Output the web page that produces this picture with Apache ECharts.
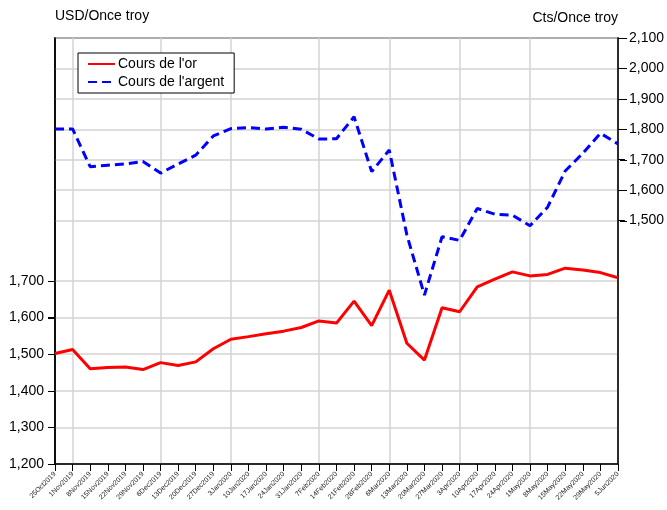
<!DOCTYPE html>
<html>
<head>
<meta charset="utf-8">
<script src="https://cdn.jsdelivr.net/npm/echarts@6/dist/echarts.min.js"></script>
<style>
html,body{margin:0;padding:0;background:#fff;}
#chart{width:667px;height:510px;}
</style>
</head>
<body>
<div id="chart"></div>
<script>
var categories = ['25Oct2019','1Nov2019','8Nov2019','15Nov2019','22Nov2019','29Nov2019','6Dec2019','13Dec2019','20Dec2019','27Dec2019','3Jan2020','10Jan2020','17Jan2020','24Jan2020','31Jan2020','7Feb2020','14Feb2020','21Feb2020','28Feb2020','6Mar2020','13Mar2020','20Mar2020','27Mar2020','3Apr2020','10Apr2020','17Apr2020','24Apr2020','1May2020','8May2020','15May2020','22May2020','29May2020','5Jun2020'];
var goldPrice = [1502,1513,1460,1464,1465,1458,1477,1469,1479,1515,1541,1548,1556,1563,1573,1591,1585,1645,1578,1675,1530,1484,1627,1616,1684,1705,1725,1714,1718,1735,1730,1723,1709];
var silverPrice = [1801,1801,1677,1682,1686,1694,1656,1686,1715,1778,1802,1806,1801,1807,1800,1768,1769,1841,1661,1732,1453,1255,1447,1435,1540,1521,1518,1483,1544,1663,1721,1787,1752];
var leftTicks = [1200,1300,1400,1500,1600,1700];
var rightTicks = [1500,1600,1700,1800,1900,2000,2100];
var leftAxisRange = [1200, 2364];
var rightAxisRange = [700, 2100];
var seriesNames = ["Cours de l'or", "Cours de l'argent"];
var leftUnit = 'USD/Once troy';
var rightUnit = 'Cts/Once troy';

var W = 667;
var G = {left: 55, right: 47, top: 38, bottom: 46};
var fmt = function (v) { return String(v).replace(/\B(?=(\d{3})+(?!\d))/g, ','); };
var chart = echarts.init(document.getElementById('chart'), null, {renderer: 'canvas'});
var font = 'Liberation Sans, Arial, sans-serif';
var titles = [
  {type: 'text', left: 55, top: 9, style: {text: leftUnit, font: '14px ' + font, fill: '#000'}},
  {type: 'text', right: 49, top: 11, style: {text: rightUnit, font: '14px ' + font, fill: '#000', textAlign: 'right'}}
];
chart.setOption({
  animation: false,
  backgroundColor: '#fff',
  grid: {left: G.left, right: G.right, top: G.top, bottom: G.bottom, show: true, borderColor: '#000', borderWidth: 1.5},
  graphic: titles,
  legend: {
    left: 78, top: 53, orient: 'vertical',
    data: seriesNames,
    backgroundColor: '#fff', borderColor: '#000', borderWidth: 1,
    padding: [4, 10, 4, 9],
    itemWidth: 27, itemHeight: 14, itemGap: 4,
    itemStyle: {opacity: 0},
    textStyle: {fontFamily: font, fontSize: 14, color: '#000', padding: [0,0,0,-2]}
  },
  xAxis: {
    type: 'category', data: categories, boundaryGap: false,
    axisLine: {lineStyle: {color: '#000', width: 1.5}},
    axisTick: {show: true, interval: 0, length: 7, lineStyle: {color: '#000', width: 1}},
    axisLabel: {interval: 0, rotate: 45, fontSize: 7, fontFamily: font, color: '#222', margin: 9},
    splitLine: {show: true, interval: function (i, v) { return i > 0 && parseInt(v, 10) <= 7; }, lineStyle: {color: '#d3d3d3', width: 1.5}}
  },
  yAxis: [
    {
      type: 'value', position: 'left', min: leftAxisRange[0], max: leftAxisRange[1],
      axisLine: {show: true, onZero: false, lineStyle: {color: '#000', width: 1.5}},
      axisTick: {show: true, customValues: leftTicks, length: 7, lineStyle: {color: '#000', width: 1}},
      axisLabel: {customValues: leftTicks, formatter: fmt, fontSize: 14, fontFamily: font, color: '#000', margin: 11},
      splitLine: {show: true, lineStyle: {color: '#d3d3d3', width: 1.5}}
    },
    {
      type: 'value', position: 'right', min: rightAxisRange[0], max: rightAxisRange[1],
      axisLine: {show: true, onZero: false, lineStyle: {color: '#000', width: 1.5}},
      axisTick: {show: true, customValues: rightTicks, length: 7, lineStyle: {color: '#000', width: 1}},
      axisLabel: {customValues: rightTicks, formatter: fmt, fontSize: 14, fontFamily: font, color: '#000', margin: 11},
      splitLine: {show: true, lineStyle: {color: '#d3d3d3', width: 1.5}}
    }
  ],
  series: [
    {name: seriesNames[0], type: 'line', yAxisIndex: 0, data: goldPrice, symbol: 'none', z: 3,
     lineStyle: {color: '#ff0000', width: 3}, itemStyle: {color: '#ff0000'}},
    {name: seriesNames[1], type: 'line', yAxisIndex: 1, data: silverPrice, symbol: 'none', z: 3,
     lineStyle: {color: '#0000ff', width: 3, type: [9, 5]}, itemStyle: {color: '#0000ff'}}
  ]
});

// tick marks placed through the axes' own scales
var tickGraphics = [];
leftTicks.forEach(function (v) {
  var y = Math.round(chart.convertToPixel({yAxisIndex: 0}, v)) + 0.5;
  tickGraphics.push({type: 'line', z: 10, silent: true,
    shape: {x1: G.left - 7, y1: y, x2: G.left, y2: y}, style: {stroke: '#000', lineWidth: 1}});
});
rightTicks.forEach(function (v) {
  var y = Math.round(chart.convertToPixel({yAxisIndex: 1}, v)) + 0.5;
  tickGraphics.push({type: 'line', z: 10, silent: true,
    shape: {x1: W - G.right, y1: y, x2: W - G.right + 7, y2: y}, style: {stroke: '#000', lineWidth: 1}});
});
chart.setOption({graphic: titles.concat(tickGraphics)});
</script>
</body>
</html>
